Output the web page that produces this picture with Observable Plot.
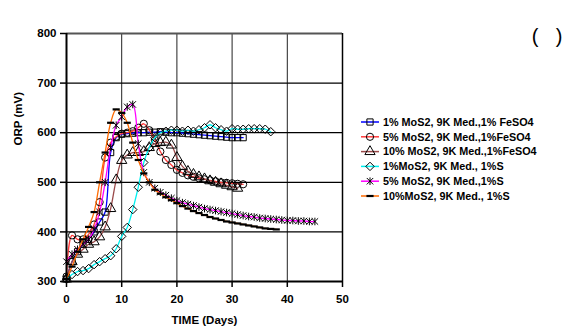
<!DOCTYPE html>
<html>
<head>
<meta charset="utf-8">
<script src="https://cdn.jsdelivr.net/npm/d3@7"></script>
<script src="https://cdn.jsdelivr.net/npm/@observablehq/plot@0.6"></script>
<style>
  html, body { margin: 0; padding: 0; background: #fff; }
  #chart { width: 567px; height: 331px; }
</style>
</head>
<body>
<div id="chart"></div>
<script>
// ---- data ----
const seriesNames = [
  "1% MoS2, 9K Med.,1% FeSO4",
  "5% MoS2, 9K Med.,1%FeSO4",
  "10% MoS2, 9K Med.,1%FeSO4",
  "1%MoS2, 9K Med., 1%S",
  "5% MoS2, 9K Med.,1%S",
  "10%MoS2, 9K Med., 1%S"
];
const seriesColors = ["#0000ff", "#ff3b3b", "#9b4a4a", "#00f0f0", "#ff00ff", "#ff6a00"];

const daysFe1 = [0,1,2,3,4,5,6,7,8,9,10,11,12,13,14,15,16,17,18,19,20,21,22,23,24,25,26,27,28,29,30,31,32];
const orpFe1  = [305,340,360,375,385,400,420,440,560,590,597,598,599,600,600,601,601,602,601,600,600,599,598,597,596,595,594,593,592,591,590,590,590];

const daysFe5 = [0,1,2,3,4,5,6,7,8,9,10,11,12,13,14,15,16,17,18,19,20,21,22,23,24,25,26,27,28,29,30,31,32];
const orpFe5  = [310,393,385,385,395,415,460,550,580,592,598,600,603,610,618,605,585,562,545,535,525,519,514,511,508,506,504,502,500,499,498,497,496];

const daysFe10 = [0,1,2,3,4,5,6,7,8,9,10,11,12,13,14,15,16,17,18,19,20,21,22,23,24,25,26,27,28,29,30,31];
const orpFe10  = [305,340,355,365,375,380,390,410,447,505,544,555,560,560,562,570,578,580,581,575,550,532,522,516,511,507,503,500,497,494,491,488];

const daysS1 = [0,1,2,3,4,5,6,7,8,9,10,11,12,13,14,15,16,17,18,19,20,21,22,23,24,25,26,27,28,29,30,31,32,33,34,35,36,37];
const orpS1  = [305,314,320,322,326,334,340,346,352,366,391,409,445,490,540,570,590,600,603,605,605,603,605,603,606,610,616,610,606,603,608,607,607,608,608,608,607,602];

const daysS5 = [0,1,2,3,4,5,6,7,8,9,10,11,12,13,14,15,16,17,18,19,20,21,22,23,24,25,26,27,28,29,30,31,32,33,34,35,36,37,38,39,40,41,42,43,44,45];
const orpS5  = [340,355,365,375,385,405,440,500,570,615,632,652,657,578,520,500,488,480,474,468,463,459,456,453,450,447,445,443,441,439,437,435,433,431,430,428,427,426,425,424,423,423,422,422,421,421];

const daysS10 = [0,1,2,3,4,5,6,7,8,9,10,11,12,13,14,15,16,17,18,19,20,21,22,23,24,25,26,27,28,29,30,31,32,33,34,35,36,37,38];
const orpS10  = [305,330,360,385,410,440,500,560,620,647,640,620,580,545,518,500,485,477,470,464,458,452,447,442,438,434,430,427,424,421,419,417,415,413,411,409,407,406,405];

const xTicks = [0,10,20,30,40,50];
const yTicks = [300,400,500,600,700,800];
const xGrid = [10,20,30,40];
const yGrid = [400,500,600,700];

// ---- symbols ----
const dashSymbol = {
  draw(ctx, size) {
    const r = Math.sqrt(size / Math.PI);
    ctx.moveTo(-r * 1.05, 0); ctx.lineTo(r * 1.05, 0);
  }
};
const starSymbol = {
  draw(ctx, size) {
    const r = Math.sqrt(size / Math.PI);
    const d = r * 0.85;
    ctx.moveTo(0, -r); ctx.lineTo(0, r);
    ctx.moveTo(-d, -d); ctx.lineTo(d, d);
    ctx.moveTo(-d, d); ctx.lineTo(d, -d);
  }
};
const plotSymbols = ["square", "circle", "triangle", "diamond2", starSymbol, dashSymbol];
const d3Symbols = [d3.symbolSquare, d3.symbolCircle, d3.symbolTriangle, d3.symbolDiamond2, starSymbol, dashSymbol];
const symR = [3.5, 3.6, 3.8, 3.8, 3.8, 3.4];
const symW = [1, 1, 1, 1, 1, 2.2];

const allDays = [daysFe1, daysFe5, daysFe10, daysS1, daysS5, daysS10];
const allOrp = [orpFe1, orpFe5, orpFe10, orpS1, orpS5, orpS10];
const tables = allDays.map((ds, k) => ds.map((d, i) => ({day: d, orp: allOrp[k][i]})));

const font = "Arial, 'Liberation Sans', sans-serif";

const marks = [
  Plot.ruleX(xGrid, {stroke: "#222", strokeWidth: 1}),
  Plot.ruleY(yGrid, {stroke: "#000", strokeWidth: 1.3}),
  Plot.ruleY([800], {stroke: "#555", strokeWidth: 2}),
  Plot.ruleX([50], {stroke: "#000", strokeWidth: 1.5}),
];
tables.forEach((t, k) => {
  marks.push(Plot.line(t, {x: "day", y: "orp", stroke: seriesColors[k], strokeWidth: 1.3, curve: "catmull-rom"}));
  marks.push(Plot.dot(t, {x: "day", y: "orp", symbol: () => plotSymbols[k], r: symR[k], stroke: "#000", strokeWidth: symW[k], fill: "none"}));
});
marks.push(
  Plot.ruleX([0], {stroke: "#000", strokeWidth: 2}),
  Plot.ruleY([300], {stroke: "#000", strokeWidth: 2}),
  Plot.axisX({ticks: xTicks, tickSize: 6, tickPadding: 7, label: null, fontWeight: "bold", fontSize: 11.5, strokeWidth: 1.5}),
  Plot.axisY({ticks: yTicks, tickSize: 6, tickPadding: 4, label: null, fontWeight: "bold", fontSize: 11.5, strokeWidth: 1.5}),
  Plot.text(["TIME (Days)"], {frameAnchor: "bottom", dy: 42, text: d => d, fontWeight: "bold", fontSize: 11.5}),
  Plot.text(["ORP (mV)"], {frameAnchor: "left", dx: -48, dy: -12, rotate: -90, text: d => d, fontWeight: "bold", fontSize: 11.5})
);

const svg = Plot.plot({
  width: 567,
  height: 331,
  marginLeft: 66,
  marginRight: 225,
  marginTop: 33,
  marginBottom: 50,
  style: {fontFamily: font, background: "#fff", color: "#000", overflow: "visible"},
  x: {domain: [0, 50]},
  y: {domain: [300, 800]},
  marks
});

// ---- legend ----
const sel = d3.select(svg);
const lg = sel.append("g").attr("font-family", font).attr("font-weight", "bold")
  .attr("font-size", 10.8).attr("text-anchor", "start");
const rowY = [122, 136.8, 151.6, 166.4, 181.2, 196];
seriesNames.forEach((name, k) => {
  const y = rowY[k];
  lg.append("line").attr("x1", 361).attr("x2", 379).attr("y1", y).attr("y2", y)
    .attr("stroke", seriesColors[k]).attr("stroke-width", 1.5);
  lg.append("path").attr("transform", `translate(370,${y})`)
    .attr("d", d3.symbol(d3Symbols[k], Math.PI * symR[k] * symR[k])())
    .attr("fill", "none").attr("stroke", "#000").attr("stroke-width", symW[k]);
  lg.append("text").attr("x", 383).attr("y", y).attr("dy", "0.35em").attr("fill", "#000")
    .attr("text-anchor", "start").text(name);
});
const pg = sel.append("g").attr("font-family", font).attr("font-size", 20).attr("fill", "#000").attr("text-anchor", "middle");
pg.append("text").attr("x", 535).attr("y", 36).attr("dy", "0.35em").text("(");
pg.append("text").attr("x", 559).attr("y", 36).attr("dy", "0.35em").text(")");

document.getElementById("chart").appendChild(svg);
</script>
</body>
</html>
